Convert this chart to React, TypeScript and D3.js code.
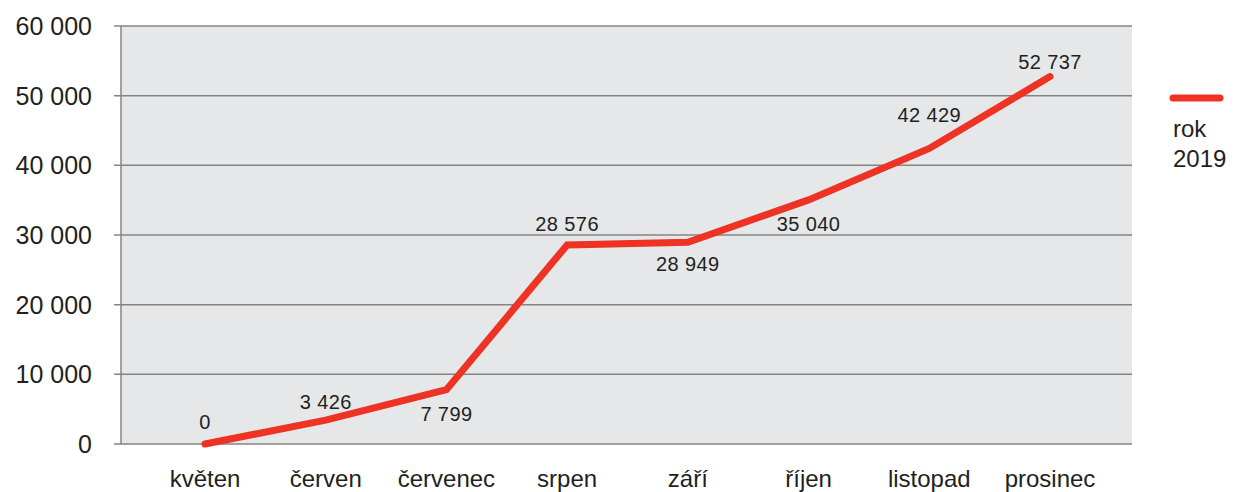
import React from 'react';
import * as d3 from 'd3';

const months = ['květen', 'červen', 'červenec', 'srpen', 'září', 'říjen', 'listopad', 'prosinec'];
const values = [0, 3426, 7799, 28576, 28949, 35040, 42429, 52737];
// vertical label offset from the point (text baseline), as the source places them
const labelDy = [-15, -11, 31, -14, 29, 31, -26, -8];
const yTicks = [0, 10000, 20000, 30000, 40000, 50000, 60000];
const seriesName = ['rok', '2019'];

const W = 1235;
const H = 492;
const margin = { top: 26, right: 103, bottom: 48, left: 121 };
const plotW = W - margin.left - margin.right;
const plotH = H - margin.top - margin.bottom;

const fmt = (v: number) => d3.format(',')(v).replace(/,/g, ' ');

const App = () => {
  const x = d3
    .scalePoint<string>()
    .domain(months)
    .range([84, plotW - 82]);

  const y = d3.scaleLinear().domain([0, 60000]).range([plotH, 0]);

  const line = d3
    .line<number>()
    .x((d, i) => x(months[i]) as number)
    .y(d => y(d));

  const textColor = '#231f20';
  const gridColor = '#848484';
  const font = '"Liberation Sans", Arial, sans-serif';

  return (
    <svg width={W} height={H} style={{ position: 'absolute', left: 0, top: 0 }} fontFamily={font}>
      <g transform={`translate(${margin.left},${margin.top})`}>
        <rect x={0} y={0} width={plotW} height={plotH} fill="#e6e7e9" />
        {yTicks.map(t => (
          <g key={t}>
            <line x1={-7} x2={plotW} y1={y(t)} y2={y(t)} stroke={gridColor} strokeWidth={1.5} />
            <text x={-29} y={y(t) + 9} textAnchor="end" fontSize={25} fill={textColor}>
              {fmt(t)}
            </text>
          </g>
        ))}
        <line x1={0} x2={0} y1={0} y2={plotH} stroke={gridColor} strokeWidth={1.5} />
        {months.map(m => (
          <text key={m} x={x(m)} y={plotH + 43} textAnchor="middle" fontSize={24} fill={textColor}>
            {m}
          </text>
        ))}
        <path
          d={line(values) as string}
          fill="none"
          stroke="#ee3224"
          strokeWidth={7}
          strokeLinecap="round"
          strokeLinejoin="miter"
        />
        {values.map((v, i) => (
          <text
            key={i}
            x={x(months[i])}
            y={y(v) + labelDy[i]}
            textAnchor="middle"
            fontSize={20}
            letterSpacing={0.4}
            fill={textColor}
          >
            {fmt(v)}
          </text>
        ))}
      </g>
      <line x1={1173} x2={1220} y1={98} y2={98} stroke="#ee3224" strokeWidth={7} strokeLinecap="round" />
      {seriesName.map((s, i) => (
        <text key={s} x={1173} y={137 + i * 30} fontSize={24} fill={textColor}>
          {s}
        </text>
      ))}
    </svg>
  );
};

export default App;
